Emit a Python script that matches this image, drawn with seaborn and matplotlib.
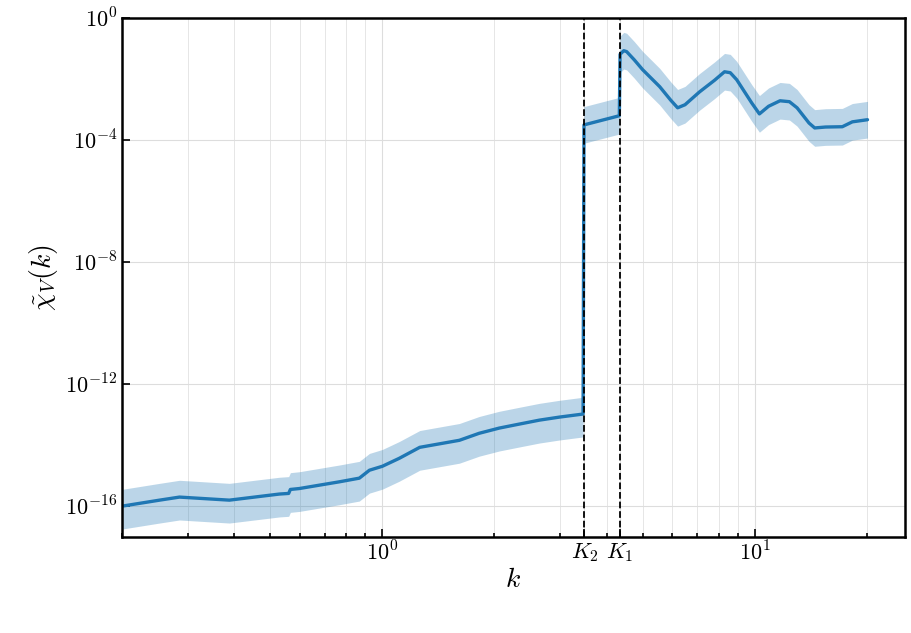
import matplotlib
matplotlib.use("Agg")
import matplotlib.pyplot as plt
import matplotlib.ticker as mticker
import numpy as np
import pandas as pd
import seaborn as sns

# k values and log10 of chi_V(k)
k_vals = [0.199, 0.252, 0.285, 0.388, 0.529, 0.560, 0.566, 0.598, 0.766, 0.867, 0.923, 1.0,
          1.11, 1.26, 1.61, 1.82, 2.06, 2.33, 2.64, 2.99, 3.46,
          3.48, 4.33, 4.35, 4.45, 4.53, 4.75, 5.00, 5.56, 5.95, 6.21, 6.5, 7.11, 7.8, 8.30, 8.6,
          8.95, 9.82, 10.3, 10.9, 11.7, 12.4, 13.0, 14.0, 14.5, 15.5, 17.2, 18.3, 20.1]
log_chi = [-16.0, -15.8, -15.7, -15.8, -15.6, -15.58, -15.45, -15.42, -15.2, -15.08, -14.82, -14.69,
           -14.43, -14.07, -13.84, -13.61, -13.44, -13.31, -13.18, -13.08, -12.98,
           -3.51, -3.21, -1.20, -1.08, -1.11, -1.38, -1.70, -2.26, -2.70, -2.95, -2.85, -2.43, -2.05,
           -1.77, -1.80, -2.03, -2.79, -3.15, -2.90, -2.72, -2.75, -2.95, -3.45, -3.61, -3.58,
           -3.57, -3.41, -3.34]
band_up = [0.55] * 21 + [0.6] * 28
band_dn = [0.75] * 21 + [0.6] * 28

K2 = 3.49
K1 = 4.34

sns.set_style("ticks")
plt.rcParams["mathtext.fontset"] = "cm"
plt.rcParams["font.family"] = ["DejaVu Serif"]
plt.rcParams["text.color"] = "black"
plt.rcParams["axes.labelcolor"] = "black"
plt.rcParams["xtick.color"] = "black"
plt.rcParams["ytick.color"] = "black"

df = pd.DataFrame({"k": k_vals, "chi": 10.0 ** np.array(log_chi)})
lo = 10.0 ** (np.array(log_chi) - np.array(band_dn))
hi = 10.0 ** (np.array(log_chi) + np.array(band_up))

fig = plt.figure(figsize=(9.12, 6.33), dpi=100)
ax = fig.add_axes([0.134, 0.152, 0.858, 0.820])
ax.fill_between(df["k"], lo, hi, color="#1f77b4", alpha=0.3, linewidth=0)
sns.lineplot(data=df, x="k", y="chi", ax=ax, color="#1f77b4", linewidth=2.4, estimator=None, sort=False)
ax.axvline(K2, color="black", linestyle="--", linewidth=1.3)
ax.axvline(K1, color="black", linestyle="--", linewidth=1.3)

ax.set_xscale("log")
ax.set_yscale("log")
ax.set_xlim(0.2, 25.3)
ax.set_ylim(1e-17, 1)

ax.set_yticks([1e0, 1e-4, 1e-8, 1e-12, 1e-16])
ax.set_yticklabels([r"$10^{0}$", r"$10^{-4}$", r"$10^{-8}$", r"$10^{-12}$", r"$10^{-16}$"], fontsize=16)
ax.yaxis.set_minor_locator(mticker.NullLocator())
ax.set_xticks([1.0, 10.0, K2, K1])
ax.set_xticklabels([r"$10^{0}$", r"$10^{1}$", r"$K_2$", r"$K_1$"], fontsize=16)
ax.xaxis.set_minor_locator(mticker.LogLocator(base=10, subs=np.arange(2, 10)))
ax.xaxis.set_minor_formatter(mticker.NullFormatter())

ax.grid(True, which="major", color="#dddddd", linewidth=0.8)
ax.grid(True, which="minor", axis="x", color="#e6e6e6", linewidth=0.7)
ax.tick_params(which="both", direction="in", width=1.2)
ax.tick_params(which="major", length=6)
ax.tick_params(which="minor", length=3)
for s in ax.spines.values():
    s.set_linewidth(1.8)
    s.set_color("black")

ax.set_xlabel(r"$k$", fontsize=20, labelpad=0)
ax.set_ylabel(r"$\tilde{\chi}_V(k)$", fontsize=20)

fig.savefig("out.png", dpi=100)
